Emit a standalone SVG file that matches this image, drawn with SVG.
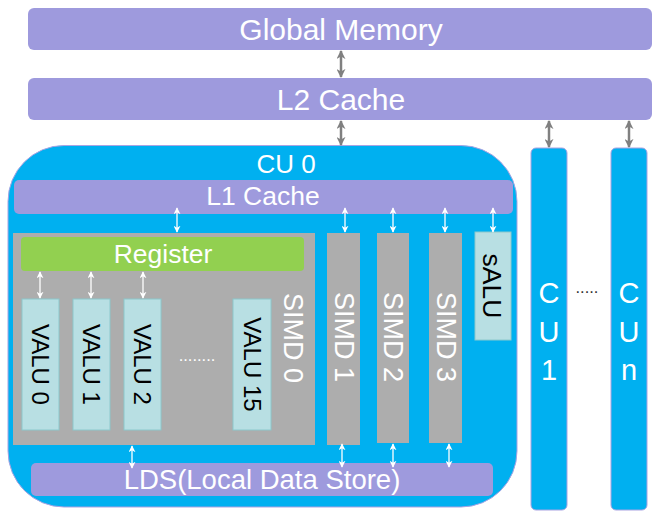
<svg xmlns="http://www.w3.org/2000/svg" width="656" height="511" viewBox="0 0 656 511">
<defs>
<style>
text{font-family:"Liberation Sans",Arial,sans-serif}
.lav{fill:#9E9ADD}
.cu{fill:#00B0F0;stroke:#A9A3E2;stroke-width:1}
.simd{fill:#ADADAD}
.valu{fill:#B8DFE3;stroke:#8CC8CC;stroke-width:1}
.wt{fill:#fff}
.bk{fill:#000}
.vt{text-anchor:middle;dominant-baseline:central}
.ga{stroke:#808080;stroke-width:2.5;fill:none;marker-start:url(#gh);marker-end:url(#gh)}
.wa{stroke:#fff;stroke-width:1.3;fill:none;marker-start:url(#wh);marker-end:url(#wh)}
</style>
<marker id="gh" viewBox="0 0 10 10" refX="9" refY="5" markerWidth="9" markerHeight="9" orient="auto-start-reverse" markerUnits="userSpaceOnUse"><path d="M0,0 L10,5 L0,10 L3,5z" fill="#808080"/></marker>
<marker id="wh" viewBox="0 0 10 10" refX="9" refY="5" markerWidth="7" markerHeight="7" orient="auto-start-reverse" markerUnits="userSpaceOnUse"><path d="M0,0 L10,5 L0,10 L3,5z" fill="#fff"/></marker>
</defs>

<g id="global-memory">
<rect class="lav" x="28" y="8" width="624" height="42" rx="6"/>
<text class="wt" x="341" y="40" font-size="30" text-anchor="middle">Global Memory</text>
</g>
<g id="l2-cache">
<rect class="lav" x="28" y="78" width="624" height="42" rx="6"/>
<text class="wt" x="341" y="110" font-size="30" text-anchor="middle">L2 Cache</text>
</g>

<g id="cu0">
<rect class="cu" x="8" y="145.5" width="509" height="361.5" rx="56"/>
<text class="wt" x="286" y="173" font-size="26" text-anchor="middle">CU 0</text>
</g>
<g id="l1-cache">
<rect class="lav" x="14" y="180" width="499" height="34" rx="5"/>
<text class="wt" x="263" y="205" font-size="26.5" text-anchor="middle">L1 Cache</text>
</g>

<g id="simd0">
<rect class="simd" x="13" y="233" width="302" height="212"/>
<text class="wt vt" font-size="27" transform="translate(293,338) rotate(90)">SIMD 0</text>
</g>
<g id="register">
<rect x="21" y="237" width="283" height="34" rx="4" fill="#92D050"/>
<text class="wt" x="163" y="263" font-size="26.5" text-anchor="middle">Register</text>
</g>
<g id="valu0">
<rect class="valu" x="22" y="299" width="37" height="131"/>
<text class="bk vt" font-size="24" transform="translate(40.5,364.5) rotate(90)">VALU 0</text>
</g>
<g id="valu1">
<rect class="valu" x="73" y="299" width="37" height="131"/>
<text class="bk vt" font-size="24" transform="translate(91.5,364.5) rotate(90)">VALU 1</text>
</g>
<g id="valu2">
<rect class="valu" x="124" y="299" width="37" height="131"/>
<text class="bk vt" font-size="24" transform="translate(142.5,364.5) rotate(90)">VALU 2</text>
</g>
<g id="valu-dots">
<text class="wt" x="197" y="361" font-size="16.5" text-anchor="middle">........</text>
</g>
<g id="valu15">
<rect class="valu" x="233" y="299" width="38" height="131"/>
<text class="bk vt" font-size="24" transform="translate(252,364.5) rotate(90)">VALU 15</text>
</g>

<g id="simd1">
<rect class="simd" x="327" y="233" width="33" height="212"/>
<text class="wt vt" font-size="27" transform="translate(344,337) rotate(90)">SIMD 1</text>
</g>
<g id="simd2">
<rect class="simd" x="377" y="233" width="32" height="210"/>
<text class="wt vt" font-size="27" transform="translate(393,337) rotate(90)">SIMD 2</text>
</g>
<g id="simd3">
<rect class="simd" x="429" y="233" width="33" height="210"/>
<text class="wt vt" font-size="27" transform="translate(445.5,337) rotate(90)">SIMD 3</text>
</g>
<g id="salu">
<rect class="valu" x="475" y="232" width="36" height="108"/>
<text class="bk vt" font-size="26.5" transform="translate(492,286) rotate(90)">sALU</text>
</g>

<g id="lds">
<rect class="lav" x="31" y="463" width="462" height="33" rx="5"/>
<text class="wt" x="262" y="489" font-size="27.5" text-anchor="middle">LDS(Local Data Store)</text>
</g>

<g id="cu1">
<rect class="cu" x="531" y="148" width="36" height="362" rx="5"/>
<text class="wt" x="549" y="303" font-size="29" text-anchor="middle">C</text>
<text class="wt" x="549" y="342" font-size="29" text-anchor="middle">U</text>
<text class="wt" x="549" y="380" font-size="29" text-anchor="middle">1</text>
</g>
<g id="cu-dots">
<text x="587" y="293" font-size="16.5" fill="#333" text-anchor="middle">.....</text>
</g>
<g id="cun">
<rect class="cu" x="611" y="148" width="36" height="362" rx="5"/>
<text class="wt" x="629" y="303" font-size="29" text-anchor="middle">C</text>
<text class="wt" x="629" y="342" font-size="29" text-anchor="middle">U</text>
<text class="wt" x="629" y="380" font-size="29" text-anchor="middle">n</text>
</g>

<g id="connectors">
<line class="ga" x1="341" y1="51" x2="341" y2="77"/>
<line class="ga" x1="341" y1="121" x2="341" y2="145"/>
<line class="ga" x1="549" y1="121" x2="549" y2="147"/>
<line class="ga" x1="629" y1="121" x2="629" y2="147"/>
<line class="wa" x1="177" y1="208" x2="177" y2="232"/>
<line class="wa" x1="345" y1="208" x2="345" y2="232"/>
<line class="wa" x1="393" y1="208" x2="393" y2="232"/>
<line class="wa" x1="445" y1="208" x2="445" y2="232"/>
<line class="wa" x1="493" y1="208" x2="493" y2="232"/>
<line class="wa" x1="40" y1="272" x2="40" y2="298"/>
<line class="wa" x1="91" y1="272" x2="91" y2="298"/>
<line class="wa" x1="143" y1="272" x2="143" y2="298"/>
<line class="wa" x1="132" y1="446" x2="132" y2="468"/>
<line class="wa" x1="342" y1="444" x2="342" y2="467"/>
<line class="wa" x1="393" y1="444" x2="393" y2="467"/>
<line class="wa" x1="449" y1="444" x2="449" y2="467"/>
</g>
</svg>
